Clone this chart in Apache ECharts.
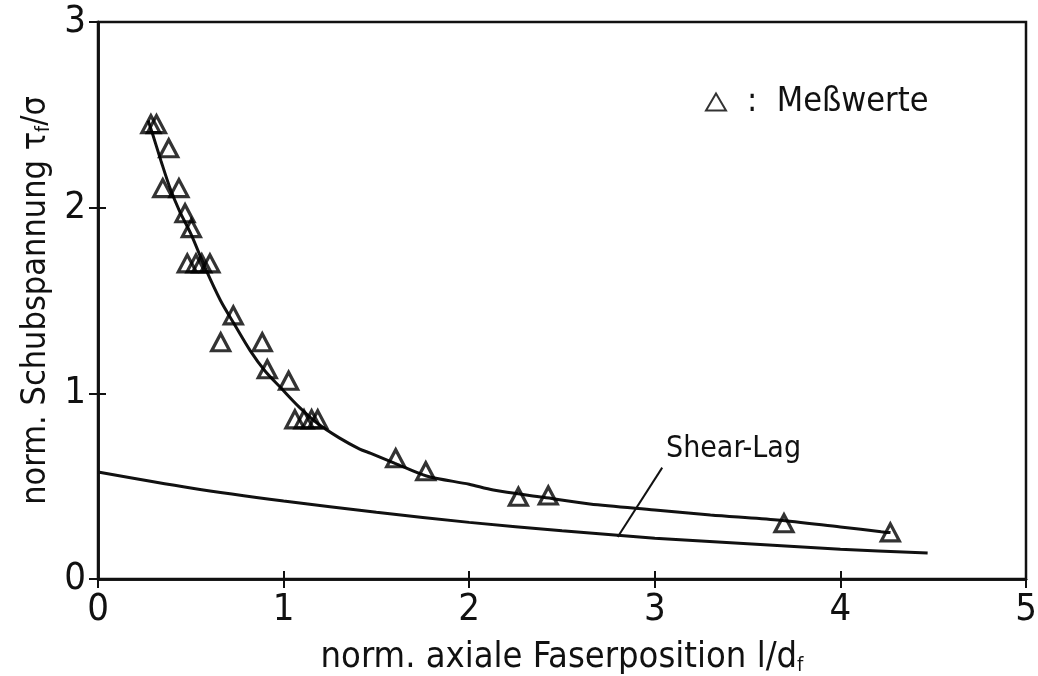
<!DOCTYPE html>
<html>
<head>
<meta charset="utf-8">
<script src="https://cdn.jsdelivr.net/npm/echarts@6/dist/echarts.min.js"></script>
<style>
html,body{margin:0;padding:0;background:#fff;}
#chart{width:1038px;height:676px;}
</style>
</head>
<body>
<div id="chart"></div>
<script>
// Measured values (triangles)
const measX = [0.285, 0.315, 0.381, 0.349, 0.436, 0.469, 0.503, 0.481, 0.528, 0.559, 0.603, 0.729, 0.661, 0.885, 0.912, 1.027, 1.061, 1.110, 1.151, 1.184, 1.604, 1.766, 2.265, 2.426, 3.696, 4.269];
const measY = [2.45, 2.45, 2.32, 2.105, 2.105, 1.97, 1.89, 1.70, 1.70, 1.70, 1.70, 1.42, 1.275, 1.275, 1.13, 1.068, 0.86, 0.86, 0.86, 0.86, 0.65, 0.58, 0.443, 0.45, 0.30, 0.251];

// Fitted curve through the measurements
const fitX = [0.27, 0.29, 0.34, 0.39, 0.44, 0.50, 0.58, 0.66, 0.73, 0.82, 0.90, 0.98, 1.08, 1.18, 1.30, 1.41, 1.47, 1.60, 1.77, 2.00, 2.13, 2.40, 2.65, 3.00, 3.30, 3.66, 4.00, 4.22, 4.27];
const fitY = [2.47, 2.41, 2.25, 2.10, 1.98, 1.86, 1.67, 1.50, 1.38, 1.23, 1.12, 1.035, 0.93, 0.84, 0.76, 0.70, 0.677, 0.623, 0.555, 0.51, 0.479, 0.44, 0.404, 0.372, 0.345, 0.318, 0.28, 0.255, 0.25];

// Shear-Lag curve
const slX = [0, 0.5, 1.0, 1.5, 2.0, 2.5, 3.0, 3.5, 4.0, 4.47];
const slY = [0.576, 0.49, 0.42, 0.36, 0.305, 0.26, 0.22, 0.19, 0.16, 0.14];

// Shear-Lag leader line
const leaderX = [3.04, 2.80];
const leaderY = [0.60, 0.226];

const xTicks = [0, 1, 2, 3, 4, 5];
const yTicks = [0, 1, 2, 3];

const FONT = "'Liberation Sans Narrow', 'DejaVu Sans Condensed', sans-serif";
const INK = '#111';

const zip = (a, b) => a.map((v, i) => [v, b[i]]);

const chart = echarts.init(document.getElementById('chart'), null, {renderer: 'canvas'});

const baseAxis = {
  axisLine: {show: true, onZero: false, lineStyle: {color: INK, width: 2.5}},
  splitLine: {show: false}
};

chart.setOption({
  animation: false,
  backgroundColor: '#fff',
  grid: {left: 98, right: 12, top: 22, bottom: 97, containLabel: false, outerBoundsMode: 'none',
         show: true, borderColor: INK, borderWidth: 2.5, backgroundColor: 'transparent'},
  legend: {
    show: true,
    left: 700, top: 80,
    itemWidth: 20, itemHeight: 17,
    data: [{name: ':  Meßwerte', icon: 'triangle'}],
    textStyle: {fontFamily: FONT, fontSize: 34, color: INK, padding: [0, 0, 0, 16]}
  },
  xAxis: [
    Object.assign({}, baseAxis, {
      type: 'value', min: 0, max: 5, interval: 1,
      axisTick: {show: true, inside: false, length: 9, lineStyle: {color: INK, width: 2}},
      axisLabel: {fontFamily: FONT, fontSize: 38, color: INK, margin: 12, formatter: v => xTicks.includes(v) ? String(v) : ''},
      name: 'norm. axiale Faserposition l/d{s|f}',
      nameLocation: 'middle', nameGap: 60,
      nameTextStyle: {fontFamily: FONT, fontSize: 36, color: INK, rich: {s: {fontFamily: FONT, fontSize: 20, color: INK, verticalAlign: 'bottom', padding: [17, 0, 0, 0]}}}
    }),
    Object.assign({}, baseAxis, {
      type: 'value', min: 0, max: 5, interval: 1, position: 'bottom',
      axisTick: {show: true, inside: true, length: 8, lineStyle: {color: INK, width: 2}},
      axisLabel: {show: false}
    })
  ],
  yAxis: [
    Object.assign({}, baseAxis, {
      type: 'value', min: 0, max: 3, interval: 1,
      axisTick: {show: true, inside: false, length: 9, lineStyle: {color: INK, width: 2}},
      axisLabel: {fontFamily: FONT, fontSize: 38, color: INK, margin: 12, formatter: v => yTicks.includes(v) ? String(v) : ''},
      name: 'norm. Schubspannung τ{s|f}/σ',
      nameLocation: 'middle', nameGap: 24, nameRotate: 90,
      nameTextStyle: {fontFamily: FONT, fontSize: 34, color: INK, rich: {s: {fontFamily: FONT, fontSize: 19, color: INK, verticalAlign: 'bottom', padding: [16, 0, 0, 0]}}}
    }),
    Object.assign({}, baseAxis, {
      type: 'value', min: 0, max: 3, interval: 1, position: 'left',
      axisTick: {show: true, inside: true, length: 8, lineStyle: {color: INK, width: 2}},
      axisLabel: {show: false}
    })
  ],
  series: [
    {
      name: 'fit', type: 'line', data: zip(fitX, fitY), smooth: 0.3, showSymbol: false, symbol: 'none',
      lineStyle: {color: INK, width: 3}, z: 2
    },
    {
      name: 'Shear-Lag', type: 'line', data: zip(slX, slY), smooth: 0.3, showSymbol: false, symbol: 'none',
      lineStyle: {color: INK, width: 3}, z: 2
    },
    {
      name: 'leader', type: 'line', data: zip(leaderX, leaderY), showSymbol: false, symbol: 'none',
      lineStyle: {color: INK, width: 2}, z: 2
    },
    {
      name: ':  Meßwerte', type: 'scatter', data: zip(measX, measY),
      symbol: 'triangle', symbolSize: [18, 17],
      itemStyle: {color: 'rgba(255,255,255,0)', borderColor: '#000', borderWidth: 3.2},
      z: 3
    }
  ],
  graphic: [
    {type: 'text', left: 666, top: 434, style: {text: 'Shear-Lag', font: "30px " + FONT, fill: INK}}
  ]
});
</script>
</body>
</html>
